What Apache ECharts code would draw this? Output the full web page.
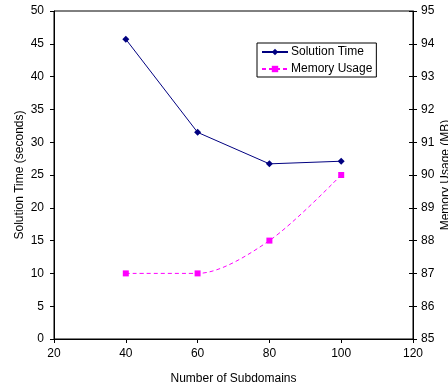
<!DOCTYPE html>
<html>
<head>
<meta charset="utf-8">
<script src="https://cdn.jsdelivr.net/npm/echarts@6/dist/echarts.min.js"></script>
<style>
  html, body { margin: 0; padding: 0; background: #fff; }
  #chart { width: 448px; height: 387px; }
</style>
</head>
<body>
<div id="chart"></div>
<script>
  // data
  var subdomains = [40, 60, 80, 100];
  var solutionTime = [45.7, 31.5, 26.7, 27.1];
  var memoryUsage = [87, 87, 88, 90];

  var font = 'Liberation Sans, Arial, sans-serif';
  var chartDom = document.getElementById('chart');
  var myChart = echarts.init(chartDom, null, {renderer: 'canvas'});

  var axisText = {color: '#000', fontFamily: font, fontSize: 12};

  var option = {
    animation: false,
    grid: {
      left: 54,
      right: 35,
      top: 11,
      bottom: 48,
      outerBoundsMode: 'none',
      containLabel: false,
      show: true,
      borderColor: '#000',
      borderWidth: 1
    },
    legend: {
      orient: 'vertical',
      left: 257,
      top: 43,
      padding: [3, 4, 2, 4],
      itemWidth: 26,
      itemHeight: 8,
      itemGap: 5,
      borderColor: '#000',
      borderWidth: 1,
      backgroundColor: '#fff',
      textStyle: {color: '#000', fontFamily: font, fontSize: 12, padding: [0, 0, 0, -2]},
      data: ['Solution Time', 'Memory Usage']
    },
    xAxis: {
      type: 'value',
      min: 20,
      max: 120,
      interval: 20,
      name: 'Number of Subdomains',
      nameLocation: 'middle',
      nameGap: 34,
      nameMoveOverlap: false,
      nameTextStyle: axisText,
      axisLine: {lineStyle: {color: '#000', width: 1}},
      axisTick: {show: true, length: 4, lineStyle: {color: '#000'}},
      axisLabel: Object.assign({margin: 9}, axisText),
      splitLine: {show: false}
    },
    yAxis: [
      {
        type: 'value',
        min: 0,
        max: 50,
        interval: 5,
        position: 'left',
        name: 'Solution Time (seconds)',
        nameLocation: 'middle',
        nameRotate: 90,
        nameGap: 28,
        nameMoveOverlap: false,
        nameTextStyle: axisText,
        axisLine: {show: true, lineStyle: {color: '#000', width: 1}},
        axisTick: {show: true, length: 4, lineStyle: {color: '#000'}},
        axisLabel: Object.assign({margin: 10}, axisText),
        splitLine: {show: false}
      },
      {
        type: 'value',
        min: 85,
        max: 95,
        interval: 1,
        position: 'right',
        name: 'Memory Usage (MB)',
        nameLocation: 'middle',
        nameRotate: 90,
        nameGap: 27,
        nameMoveOverlap: false,
        nameTextStyle: axisText,
        axisLine: {show: true, lineStyle: {color: '#000', width: 1}},
        axisTick: {show: true, length: 4, lineStyle: {color: '#000'}},
        axisLabel: Object.assign({margin: 8}, axisText),
        splitLine: {show: false}
      },
      {
        // inner half of the crossing ticks on the right axis
        type: 'value',
        min: 85,
        max: 95,
        interval: 1,
        position: 'right',
        axisLine: {show: false},
        axisTick: {show: true, inside: true, length: 4, lineStyle: {color: '#000'}},
        axisLabel: {show: false},
        splitLine: {show: false}
      }
    ],
    series: [
      {
        name: 'Solution Time',
        type: 'line',
        yAxisIndex: 0,
        symbol: 'diamond',
        symbolSize: 7,
        color: '#000080',
        lineStyle: {color: '#000080', width: 1},
        itemStyle: {color: '#000080'},
        data: subdomains.map(function (x, i) { return [x, solutionTime[i]]; })
      },
      {
        name: 'Memory Usage',
        type: 'line',
        yAxisIndex: 1,
        smooth: 0.3,
        symbol: 'rect',
        symbolSize: 6,
        color: '#FF00FF',
        lineStyle: {color: '#FF00FF', width: 1, type: [4, 3]},
        itemStyle: {color: '#FF00FF'},
        data: subdomains.map(function (x, i) { return [x, memoryUsage[i]]; })
      }
    ]
  };

  option && myChart.setOption(option);
</script>
</body>
</html>
